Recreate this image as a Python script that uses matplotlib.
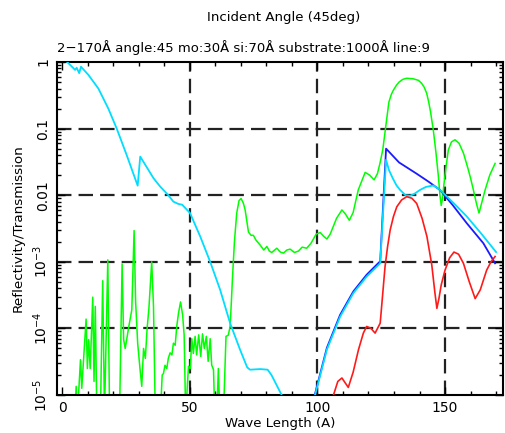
import numpy as np
import matplotlib
matplotlib.use("Agg")
import matplotlib.pyplot as plt
from matplotlib.ticker import LogLocator, FixedLocator, NullFormatter

# curves (wave length in A, value)
green_x = [5.0, 5.5, 6.0, 7.2, 7.7, 8.5, 9.4, 9.9, 10.4, 11.0, 12.0, 12.5, 13.0, 13.6,
           15.0, 15.9, 16.6, 17.9, 18.6, 22.5, 23.5, 24.1, 24.7, 25.3, 26.0, 26.7, 27.3,
           28.2, 28.8, 29.6, 30.5, 31.2, 31.9, 32.6, 33.3, 34.0, 35.1, 35.8, 36.5, 38.5,
           39.2, 39.7, 40.3, 41.0, 41.6, 42.3, 43.0, 43.6, 44.3, 44.9, 45.6, 46.4, 47.2,
           47.8, 48.4, 49.5, 50.2, 50.8, 51.4, 52.1, 52.7, 53.5, 54.3, 55.0, 55.7, 56.5,
           57.2, 58.0, 58.6, 59.3, 59.8, 60.6, 61.2, 61.8, 63.2, 64.2, 65.1, 65.8, 66.3,
           66.7, 67.5, 68.4, 69.3, 70.1, 71.0, 71.7, 72.4, 73.0, 74.0, 74.9, 76.0, 77.6,
           79.0, 80.2, 81.2, 82.1, 83.2, 84.1, 85.5, 86.7, 88.0, 89.3, 91.0, 92.6, 94.0,
           95.8, 97.5, 99.5, 101.1, 102.5, 103.7, 105.0, 107.5, 109.6, 111.0, 112.5,
           114.0, 116.0, 118.7, 120.5, 122.2, 123.5, 124.5, 125.6, 126.5, 127.2, 128.0,
           129.0, 129.8, 131.0, 132.0, 133.5, 135.0, 137.5, 139.6, 140.8, 141.8, 142.8,
           143.6, 144.3, 145.4, 146.4, 147.4, 148.0, 148.5, 149.0, 149.6, 150.4, 151.3,
           152.5, 153.9, 155.5, 157.2, 159.0, 160.0, 161.1, 162.3, 163.3, 164.3, 165.7,
           167.5, 169.6]
green_y = [5e-6, 1.35e-5, 5e-6, 3.4e-5, 1.26e-5, 3.8e-5, 1.38e-4, 2.5e-5, 6.8e-5, 2.5e-5,
           2.95e-4, 1.6e-5, 2.14e-4, 5e-6, 5e-6, 5.2e-4, 5e-6, 1.07e-3, 5e-6, 5e-6, 9.3e-4,
           6.8e-5, 5e-5, 6.8e-5, 1e-4, 1.4e-4, 1.9e-4, 2.95e-3, 2.5e-4, 6e-5, 2.5e-5,
           1.35e-5, 5e-5, 3.55e-5, 1e-4, 2e-4, 1e-3, 2.14e-4, 5e-6, 5e-6, 2e-5, 2.1e-5,
           2.8e-5, 2.5e-5, 3.55e-5, 4.3e-5, 4e-5, 6e-5, 5.6e-5, 1.07e-4, 1.7e-4, 2.5e-4,
           1.6e-4, 8e-5, 5e-6, 2.7e-5, 2.5e-5, 7e-5, 4.2e-5, 7.6e-5, 4e-5, 8e-5, 3.8e-5,
           8.3e-5, 5e-5, 7.6e-5, 3.2e-5, 7e-5, 2.8e-5, 2.4e-5, 5e-6, 5e-6, 2.5e-5, 5e-6,
           5e-6, 7.6e-5, 7.9e-5, 1.07e-4, 2.5e-4, 5.4e-4, 2e-3, 5.4e-3, 8.3e-3, 8.9e-3,
           7.6e-3, 6e-3, 4e-3, 2.8e-3, 2.5e-3, 2.5e-3, 2.1e-3, 1.78e-3, 1.5e-3, 1.7e-3,
           1.45e-3, 1.38e-3, 1.5e-3, 1.6e-3, 1.4e-3, 1.35e-3, 1.5e-3, 1.55e-3, 1.38e-3,
           1.45e-3, 1.66e-3, 1.6e-3, 1.9e-3, 2.6e-3, 2.75e-3, 2.4e-3, 2.2e-3, 2.6e-3,
           4.5e-3, 6e-3, 5.2e-3, 4.2e-3, 5.5e-3, 1.2e-2, 2.2e-2, 2.0e-2, 1.7e-2, 2.1e-2,
           3e-2, 4.8e-2, 9e-2, 0.15, 0.25, 0.33, 0.38, 0.45, 0.5, 0.55, 0.57, 0.56, 0.53,
           0.48, 0.42, 0.34, 0.25, 0.18, 0.095, 0.045, 0.019, 0.010, 0.007, 0.009, 0.015,
           0.027, 0.048, 0.063, 0.068, 0.06, 0.043, 0.025, 0.018, 0.012, 0.0075, 0.0054,
           0.0075, 0.012, 0.02, 0.03]

cyan_x = [2.0, 5.1, 5.7, 6.7, 7.4, 10.3, 14.2, 18.1, 21.4, 25.3, 29.6, 30.6, 35.8, 38.4,
          41.6, 43.6, 45.5, 47.0, 50.1, 54.1, 58.0, 61.9, 65.8, 69.7, 72.5, 73.6, 77.6,
          80.5, 82.0, 86.0, 88.0, 98.0, 99.1, 103.7, 108.9, 114.1, 119.3, 124.6, 126.9,
          128.0, 129.5, 131.0, 132.4, 134.5, 136.3, 138.0, 140.2, 142.5, 145.4, 147.5,
          149.4, 154.0, 158.5, 164.0, 170.0]
cyan_y = [1.0, 0.76, 0.82, 0.68, 0.85, 0.64, 0.40, 0.20, 0.10, 0.040, 0.0139, 0.038,
          0.018, 0.0135, 0.010, 0.0080, 0.0074, 0.0072, 0.0054, 0.0024, 1e-3, 3.8e-4,
          1.2e-4, 4.8e-5, 2.6e-5, 2.4e-5, 2.45e-5, 2.4e-5, 2.0e-5, 1e-5, 6e-6, 6e-6,
          1e-5, 4.8e-5, 1.5e-4, 3.4e-4, 6e-4, 9.5e-4, 0.034, 0.024, 0.018, 0.014, 0.012,
          0.010, 0.0098, 0.0105, 0.012, 0.0133, 0.014, 0.0125, 0.0107, 0.0072, 0.0048,
          0.0027, 1.4e-3]

blue_x = [98.0, 99.1, 103.7, 108.9, 114.1, 119.3, 124.6, 126.9, 132.0, 138.9, 143.5,
          148.0, 153.0, 158.5, 165.0, 169.6]
blue_y = [6e-6, 1.05e-5, 5.1e-5, 1.6e-4, 3.6e-4, 6.4e-4, 1.02e-3, 0.050, 0.031, 0.021,
          0.016, 0.012, 0.0071, 0.0038, 0.0019, 9.5e-4]

red_x = [104.0, 106.3, 108.0, 109.6, 111.0, 112.1, 114.0, 116.1, 118.0, 119.3, 121.0,
         122.6, 124.6, 126.5, 127.5, 128.5, 129.8, 131.1, 133.0, 135.0, 137.0, 138.9,
         141.0, 142.9, 144.8, 146.0, 146.8, 147.6, 148.5, 150.0, 151.8, 153.5, 155.3,
         157.2, 159.5, 161.8, 163.8, 166.3, 168.0, 169.6]
red_y = [5e-6, 1e-5, 1.6e-5, 1.8e-5, 1.5e-5, 1.3e-5, 2.2e-5, 4.8e-5, 8.5e-5, 1.07e-4,
         1e-4, 8.5e-5, 1.2e-4, 8.5e-4, 1.7e-3, 3e-3, 4.8e-3, 6.7e-3, 8.5e-3, 9.5e-3,
         9e-3, 7.5e-3, 4.5e-3, 2.4e-3, 9e-4, 3.5e-4, 2e-4, 2.8e-4, 4.5e-4, 7.5e-4,
         1.15e-3, 1.4e-3, 1.3e-3, 9.5e-4, 5e-4, 2.8e-4, 3.8e-4, 7.5e-4, 1e-3, 1.2e-3]

grid_x = [50, 100, 150]
grid_y = [1e-1, 1e-2, 1e-3, 1e-4]
ytick_vals = [1, 1e-1, 1e-2, 1e-3, 1e-4, 1e-5]
ytick_labels = ["1", "0.1", "0.01", r"$10^{-3}$", r"$10^{-4}$", r"$10^{-5}$"]

plt.rcParams['font.family'] = ['DejaVu Sans']
fig = plt.figure(figsize=(5.05, 4.33), dpi=100)
ax = fig.add_axes([57 / 505, 1 - 395 / 433, 446 / 505, 333 / 433])

ax.set_yscale('log')
ax.set_xlim(-2, 172.7)
ax.set_ylim(1e-5, 1)

for gx in grid_x:
    ax.axvline(gx, color='#222222', lw=1.6, ls=(0, (6.5, 3.2)), zorder=1)
for gy in grid_y:
    ax.axhline(gy, color='#222222', lw=1.6, ls=(0, (6.5, 3.2)), zorder=1)

ax.plot(green_x, green_y, color='#00ff00', lw=1.1, zorder=2)
ax.plot(blue_x, blue_y, color='#1a1aff', lw=1.3, zorder=3)
ax.plot(cyan_x, cyan_y, color='#00ddff', lw=1.3, zorder=3)
ax.plot(red_x, red_y, color='#ff1a1a', lw=1.2, zorder=4)

ax.xaxis.set_major_locator(FixedLocator([0, 50, 100, 150]))
ax.xaxis.set_minor_locator(FixedLocator(np.arange(10, 171, 10)))
ax.yaxis.set_major_locator(FixedLocator(ytick_vals))
ax.set_yticklabels(ytick_labels, rotation=90, va='center')
ax.yaxis.set_minor_locator(LogLocator(base=10, subs=np.arange(2, 10)))
ax.yaxis.set_minor_formatter(NullFormatter())
ax.tick_params(which='both', direction='in', top=True, right=True, labelsize=10,
               color='black', width=1.0)
ax.tick_params(which='major', length=6)
ax.tick_params(which='minor', length=3)
ax.tick_params(axis='x', pad=4)
ax.tick_params(axis='y', pad=5)
for s in ax.spines.values():
    s.set_linewidth(1.5)

ax.set_xlabel("Wave Length (A)", fontsize=9.5, labelpad=2)
ax.set_ylabel("Reflectivity/Transmission", fontsize=9.7, labelpad=5)

fig.text(284 / 505, 1 - 17 / 433, "Incident Angle (45deg)", ha='center', va='center', fontsize=9.6)
fig.text(57 / 505, 1 - 48 / 433,
         "2\u2212170\u00c5 angle:45 mo:30\u00c5 si:70\u00c5 substrate:1000\u00c5 line:9",
         ha='left', va='center', fontsize=9.5)

fig.savefig("out.png", dpi=100)
